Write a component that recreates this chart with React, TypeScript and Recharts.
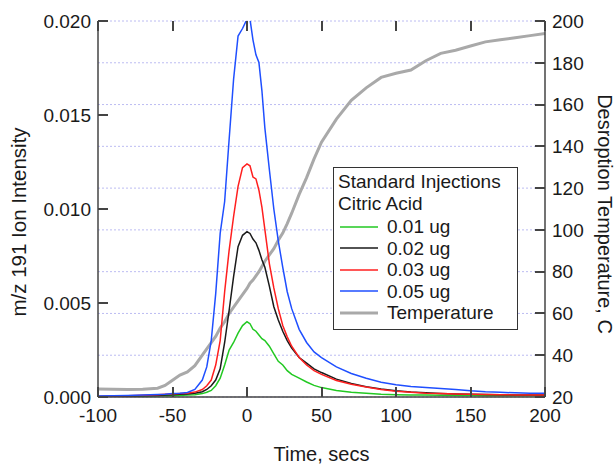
import React from 'react';
import { LineChart, Line, XAxis, YAxis, CartesianGrid, Label } from 'recharts';

const times = [-100, -90, -80, -70, -60, -55, -50, -45, -40, -35, -30, -27, -24, -21, -18, -15, -12, -9, -6, -3, 0, 2, 4, 6, 8, 10, 12, 15, 18, 21, 24, 27, 30, 35, 40, 45, 50, 60, 70, 80, 90, 100, 110, 120, 130, 140, 150, 160, 170, 180, 190, 200];

const ug001 = [0.00001, 0.00002, 0.00003, 0.00004, 0.00005, 0.00006, 0.00007, 0.00008, 0.0001, 0.00012, 0.00018, 0.00025, 0.00035, 0.0006, 0.001, 0.0017, 0.0025, 0.0029, 0.0034, 0.0038, 0.0040, 0.0039, 0.0036, 0.0035, 0.0033, 0.0031, 0.0030, 0.0027, 0.0023, 0.0019, 0.0017, 0.0014, 0.0012, 0.001, 0.0008, 0.00062, 0.0005, 0.00035, 0.00025, 0.0002, 0.00015, 0.00012, 0.0001, 0.0001, 0.00009, 0.00008, 0.00008, 0.00007, 0.00007, 0.00006, 0.00006, 0.00006];

const ug002 = [0.00002, 0.00003, 0.00004, 0.00006, 0.00008, 0.0001, 0.00012, 0.00014, 0.00016, 0.0002, 0.00028, 0.0004, 0.0006, 0.0009, 0.0015, 0.0029, 0.0046, 0.0064, 0.0080, 0.0086, 0.0088, 0.0087, 0.0084, 0.0082, 0.0078, 0.0073, 0.0069, 0.0059, 0.0048, 0.0041, 0.0035, 0.003, 0.0026, 0.0021, 0.0018, 0.0015, 0.0013, 0.00095, 0.00072, 0.00055, 0.00042, 0.00033, 0.00026, 0.00022, 0.00019, 0.00016, 0.00014, 0.00013, 0.00012, 0.00011, 0.0001, 0.0001];

const ug003 = [0.00003, 0.00005, 0.00007, 0.00009, 0.00012, 0.00014, 0.00016, 0.00018, 0.0002, 0.00026, 0.0004, 0.0006, 0.0009, 0.0017, 0.003, 0.0056, 0.0078, 0.0096, 0.0112, 0.0122, 0.0124, 0.0123, 0.0117, 0.0116, 0.0110, 0.0101, 0.0089, 0.0071, 0.0058, 0.0047, 0.0038, 0.0032, 0.0027, 0.0021, 0.0017, 0.0014, 0.0012, 0.00088, 0.00068, 0.00053, 0.0004, 0.0003, 0.00025, 0.0002, 0.00018, 0.00016, 0.00014, 0.00013, 0.00012, 0.00011, 0.0001, 0.0001];

const ug005 = [0.00005, 0.00006, 0.00008, 0.0001, 0.00013, 0.00015, 0.00018, 0.0002, 0.00024, 0.0004, 0.0009, 0.0016, 0.003, 0.0055, 0.0087, 0.0104, 0.0137, 0.0169, 0.0192, 0.0196, 0.0201, 0.0201, 0.0190, 0.0182, 0.0178, 0.0163, 0.0143, 0.0121, 0.0100, 0.0083, 0.0069, 0.0056, 0.0047, 0.0036, 0.0029, 0.0024, 0.0021, 0.0016, 0.00125, 0.001, 0.00078, 0.00065, 0.00056, 0.0005, 0.00045, 0.0004, 0.00033, 0.00028, 0.00025, 0.00022, 0.0002, 0.0002];

const temperature = [23.8, 23.7, 23.6, 23.7, 24.2, 25.5, 28, 30.5, 32, 35, 40, 43, 46, 49, 53, 56, 60, 63, 66, 69, 72, 74.5, 76, 78, 80, 82.5, 85, 88, 91, 95, 98.5, 103, 108, 117, 125, 134, 142, 153, 162, 168, 173, 175, 176.5, 181, 184.5, 186, 188, 190, 191, 192, 193, 194];

const xTicks = [-100, -50, 0, 50, 100, 150, 200];
const leftTicks = [0, 0.005, 0.01, 0.015, 0.02];
const rightTicks = [20, 40, 60, 80, 100, 120, 140, 160, 180, 200];
const legendTitle = ['Standard Injections', 'Citric Acid'];
const seriesNames = ['0.01 ug', '0.02 ug', '0.03 ug', '0.05 ug', 'Temperature'];
const seriesColors = ['#22c922', '#1a1a1a', '#ff1f1f', '#1f4fff', '#a9a9a9'];
const seriesWidths = [1.5, 1.5, 1.5, 1.5, 3];

const X_DOMAIN: [number, number] = [-100, 200];
const L_DOMAIN: [number, number] = [0, 0.02];
const R_DOMAIN: [number, number] = [20, 200];

const rows = times.map((t, i) => ({
  t,
  a: ug001[i],
  b: ug002[i],
  c: ug003[i],
  d: ug005[i],
  temp: temperature[i],
}));

const W = 616;
const H = 464;
const M_TOP = 21;
const Y_LEFT_W = 98;
const Y_RIGHT_W = 71;
const X_H = 67;
const PLOT_L = Y_LEFT_W;
const PLOT_R = W - Y_RIGHT_W;
const PLOT_T = M_TOP;
const PLOT_B = H - X_H;
const TICK_LEN = 10;
const TICK_W = 2;

const sx = (v: number) => PLOT_L + ((v - X_DOMAIN[0]) / (X_DOMAIN[1] - X_DOMAIN[0])) * (PLOT_R - PLOT_L);
const syL = (v: number) => PLOT_B - ((v - L_DOMAIN[0]) / (L_DOMAIN[1] - L_DOMAIN[0])) * (PLOT_B - PLOT_T);
const syR = (v: number) => PLOT_B - ((v - R_DOMAIN[0]) / (R_DOMAIN[1] - R_DOMAIN[0])) * (PLOT_B - PLOT_T);

const FONT = "'Liberation Sans', Arial, sans-serif";
const AXIS = '#444444';
const TEXT = '#1a1a1a';

const BottomTick = (props: any) => {
  const { x, y, payload } = props;
  return (
    <text x={x} y={y + 25} textAnchor="middle" fontSize={19} fontFamily={FONT} fill={TEXT} stroke="none">
      {payload.value}
    </text>
  );
};

const LeftTick = (props: any) => {
  const { x, y, payload } = props;
  return (
    <text x={x - 7} y={y} dy="0.355em" textAnchor="end" fontSize={19} fontFamily={FONT} fill={TEXT} stroke="none">
      {Number(payload.value).toFixed(3)}
    </text>
  );
};

const RightTick = (props: any) => {
  const { x, y, payload } = props;
  return (
    <text x={x + 7} y={y} dy="0.355em" textAnchor="start" fontSize={19} fontFamily={FONT} fill={TEXT} stroke="none">
      {payload.value}
    </text>
  );
};

const LeftLabel = (props: any) => {
  const vb = props.viewBox;
  const cx = vb.x + 18;
  const cy = vb.y + vb.height / 2 + 13;
  return (
    <text x={cx} y={cy} transform={`rotate(-90 ${cx} ${cy})`} textAnchor="middle" dominantBaseline="central" fontSize={20.5} fontFamily={FONT} fill={TEXT}>
      m/z 191 Ion Intensity
    </text>
  );
};

const RightLabel = (props: any) => {
  const vb = props.viewBox;
  const cx = vb.x + 60;
  const cy = vb.y + vb.height / 2 + 5;
  return (
    <text x={cx} y={cy} transform={`rotate(90 ${cx} ${cy})`} textAnchor="middle" dominantBaseline="central" fontSize={20} fontFamily={FONT} fill={TEXT}>
      Desroption Temperature, C
    </text>
  );
};

const BottomLabel = (props: any) => {
  const vb = props.viewBox;
  const cx = vb.x + vb.width / 2;
  const cy = vb.y + 64;
  return (
    <text x={cx} y={cy} textAnchor="middle" fontSize={20} fontFamily={FONT} fill={TEXT}>
      Time, secs
    </text>
  );
};

const tickBox = (left: number, top: number, width: number, height: number, key: string) => (
  <div key={key} style={{ position: 'absolute', left, top, width, height, background: AXIS, zIndex: 2 }} />
);

function TickOverlay() {
  return (
    <>
      {xTicks.map((t) => tickBox(sx(t) - TICK_W / 2, PLOT_B - TICK_LEN, TICK_W, TICK_LEN, `b${t}`))}
      {xTicks.map((t) => tickBox(sx(t) - TICK_W / 2, PLOT_T, TICK_W, TICK_LEN, `t${t}`))}
      {leftTicks.map((v) => tickBox(PLOT_L, syL(v) - TICK_W / 2, TICK_LEN, TICK_W, `l${v}`))}
      {rightTicks.map((v) => tickBox(PLOT_R - TICK_LEN, syR(v) - TICK_W / 2, TICK_LEN, TICK_W, `r${v}`))}
    </>
  );
}

export default function App() {
  return (
    <div style={{ position: 'absolute', left: 0, top: 0, width: W, height: H, fontFamily: FONT, overflow: 'hidden' }}>
      <LineChart width={W} height={H} data={rows} margin={{ top: M_TOP, right: 0, bottom: 0, left: 0 }}>
        <CartesianGrid xAxisId="bottom" yAxisId="right" vertical={false} stroke="#bcbcf2" strokeDasharray="2 2" />
        <XAxis
          xAxisId="bottom"
          dataKey="t"
          type="number"
          domain={X_DOMAIN}
          ticks={xTicks}
          height={X_H}
          tickSize={0}
          tickMargin={0}
          tick={BottomTick}
          tickLine={false}
          axisLine={{ stroke: AXIS, strokeWidth: 1.5 }}
        >
          <Label content={BottomLabel} />
        </XAxis>
        <XAxis
          xAxisId="top"
          orientation="top"
          dataKey="t"
          type="number"
          domain={X_DOMAIN}
          ticks={xTicks}
          height={0}
          tick={false}
          tickLine={false}
          axisLine={{ stroke: AXIS, strokeWidth: 1.5 }}
        />
        <YAxis
          yAxisId="left"
          domain={L_DOMAIN}
          ticks={leftTicks}
          allowDataOverflow
          width={Y_LEFT_W}
          tickSize={0}
          tickMargin={0}
          tick={LeftTick}
          tickLine={false}
          axisLine={{ stroke: AXIS, strokeWidth: 1.5 }}
        >
          <Label content={LeftLabel} />
        </YAxis>
        <YAxis
          yAxisId="right"
          orientation="right"
          domain={R_DOMAIN}
          ticks={rightTicks}
          allowDataOverflow
          width={Y_RIGHT_W}
          tickSize={0}
          tickMargin={0}
          tick={RightTick}
          tickLine={false}
          axisLine={{ stroke: AXIS, strokeWidth: 1.5 }}
        >
          <Label content={RightLabel} />
        </YAxis>
        <Line xAxisId="bottom" yAxisId="right" dataKey="temp" stroke={seriesColors[4]} strokeWidth={3} dot={false} isAnimationActive={false} />
        <Line xAxisId="bottom" yAxisId="left" dataKey="a" stroke={seriesColors[0]} strokeWidth={1.5} dot={false} isAnimationActive={false} />
        <Line xAxisId="bottom" yAxisId="left" dataKey="b" stroke={seriesColors[1]} strokeWidth={1.5} dot={false} isAnimationActive={false} />
        <Line xAxisId="bottom" yAxisId="left" dataKey="c" stroke={seriesColors[2]} strokeWidth={1.5} dot={false} isAnimationActive={false} />
        <Line xAxisId="bottom" yAxisId="left" dataKey="d" stroke={seriesColors[3]} strokeWidth={1.5} dot={false} isAnimationActive={false} />
      </LineChart>
      <TickOverlay />
      <div
        style={{
          position: 'absolute',
          left: 333,
          top: 167,
          width: 185,
          height: 163,
          border: '1.5px solid #333',
          background: '#fff',
          padding: '3px 0 0 4px',
          fontSize: 19,
          lineHeight: '21.5px',
          color: TEXT,
          boxSizing: 'border-box',
          whiteSpace: 'nowrap',
          zIndex: 3,
        }}
      >
        {legendTitle.map((s) => (
          <div key={s}>{s}</div>
        ))}
        <div style={{ height: 2 }} />
        {seriesNames.map((s, i) => (
          <div key={s} style={{ display: 'flex', alignItems: 'center', height: 21.5 }}>
            <svg width={40} height={6} style={{ marginLeft: 2, display: 'block' }}>
              <line x1={0} x2={38} y1={3} y2={3} stroke={seriesColors[i]} strokeWidth={seriesWidths[i]} />
            </svg>
            <div style={{ marginLeft: 7 }}>{s}</div>
          </div>
        ))}
      </div>
    </div>
  );
}
